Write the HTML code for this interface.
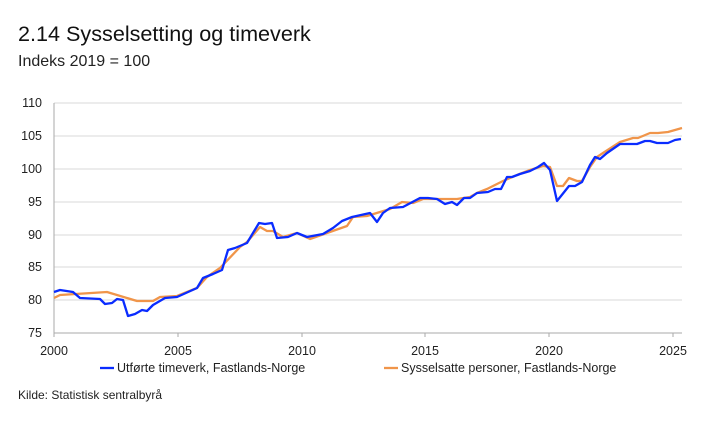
<!DOCTYPE html>
<html><head><meta charset="utf-8"><style>
body{margin:0;background:#fff;width:722px;height:427px;overflow:hidden;font-family:"Liberation Sans",sans-serif;}
</style></head><body>
<svg width="722" height="427" xmlns="http://www.w3.org/2000/svg" font-family="Liberation Sans, sans-serif">
<text x="18" y="41" font-size="21.6" fill="#111">2.14 Sysselsetting og timeverk</text>
<text x="18" y="66" font-size="16" fill="#222">Indeks 2019 = 100</text>
<g stroke="#e6e6e6" stroke-width="1.5">
<line x1="54" x2="682" y1="103" y2="103"/><line x1="54" x2="682" y1="136" y2="136"/>
<line x1="54" x2="682" y1="169" y2="169"/><line x1="54" x2="682" y1="202" y2="202"/>
<line x1="54" x2="682" y1="235" y2="235"/><line x1="54" x2="682" y1="267" y2="267"/>
<line x1="54" x2="682" y1="300" y2="300"/>
</g>
<g stroke="#aaa" stroke-width="1">
<line x1="54" x2="54" y1="103" y2="337"/><line x1="54" x2="682" y1="333" y2="333"/>
<line x1="178" x2="178" y1="333" y2="337"/><line x1="302" x2="302" y1="333" y2="337"/>
<line x1="425" x2="425" y1="333" y2="337"/><line x1="549" x2="549" y1="333" y2="337"/>
<line x1="673" x2="673" y1="333" y2="337"/>
</g>
<g font-size="12.5" fill="#222" text-anchor="end">
<text x="42" y="107">110</text><text x="42" y="140">105</text><text x="42" y="173">100</text>
<text x="42" y="206">95</text><text x="42" y="239">90</text><text x="42" y="271">85</text>
<text x="42" y="304">80</text><text x="42" y="337">75</text>
</g>
<g font-size="12.5" fill="#222" text-anchor="middle">
<text x="54" y="355">2000</text><text x="178" y="355">2005</text><text x="302" y="355">2010</text>
<text x="425" y="355">2015</text><text x="549" y="355">2020</text><text x="673" y="355">2025</text>
</g>
<polyline fill="none" stroke="#f0954a" stroke-width="2.3" stroke-linejoin="round" points="54,298 60,295 107,292 137,301 153,301 160,297 177,296 197,288 207,277 220,268 240,247 247,242 260,227 267,231 273,231 283,237 297,233 310,239 327,233 347,226 353,217 367,216 380,212 390,209 402,202 413,203 423,199 437,199 457,199 470,197 477,193 487,189 503,181 517,175 530,170 543,166 550,167 557,186 563,186 569,178 577,181 582,181 590,167 597,157 603,153 620,142 633,138 638,138 650,133 658,133 668,132 682,128"/>
<polyline fill="none" stroke="#0a2cff" stroke-width="2.3" stroke-linejoin="round" points="54,292 60,290 73,292 80,298 100,299 105,304 112,303 117,299 123,300 128,316 135,314 142,310 147,311 153,305 165,298 177,297 197,288 203,278 213,274 222,270 228,250 235,248 247,243 259,223 265,224 272,223 277,238 288,237 297,233 307,237 323,234 333,228 342,221 352,217 370,213 377,222 383,213 390,208 403,207 420,198 428,198 437,199 445,204 452,202 457,205 464,198 470,198 477,193 488,192 495,189 501,189 507,177 512,177 520,174 530,171 538,167 544,163 550,170 557,201 569,186 575,186 582,182 590,165 595,157 600,159 607,153 620,144 637,144 645,141 650,141 657,143 668,143 675,140 681,139"/>
<line x1="100" x2="114" y1="368" y2="368" stroke="#0a2cff" stroke-width="2.3"/>
<text x="117" y="372" font-size="12.5" fill="#222">Utførte timeverk, Fastlands-Norge</text>
<line x1="384" x2="398" y1="368" y2="368" stroke="#f0954a" stroke-width="2.3"/>
<text x="401" y="372" font-size="12.5" fill="#222">Sysselsatte personer, Fastlands-Norge</text>
<text x="18" y="399" font-size="12" fill="#222">Kilde: Statistisk sentralbyrå</text>
</svg>
</body></html>
